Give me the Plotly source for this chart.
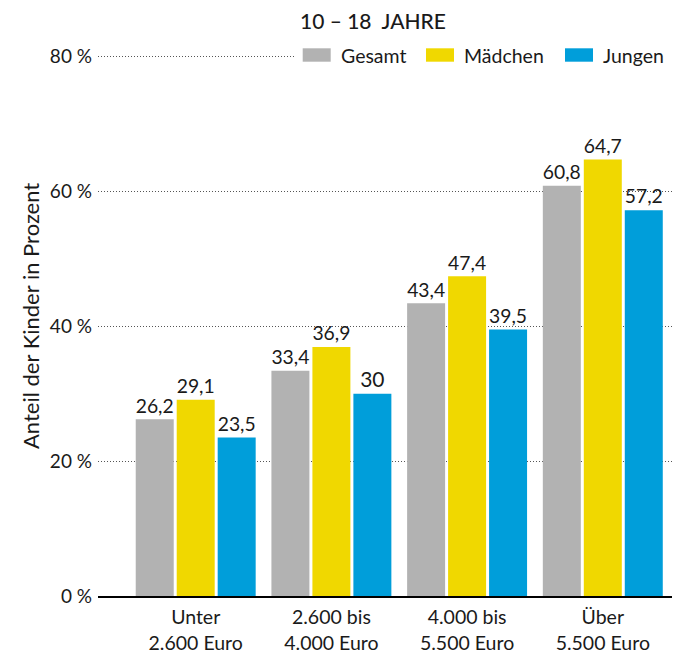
import plotly.graph_objects as go

# Einkommensgruppen (monatliches Haushaltsnettoeinkommen)
categories = ["Unter<br>2.600 Euro", "2.600 bis<br>4.000 Euro",
              "4.000 bis<br>5.500 Euro", "Über<br>5.500 Euro"]

gesamt = [26.2, 33.4, 43.4, 60.8]
maedchen = [29.1, 36.9, 47.4, 64.7]
jungen = [23.5, 30, 39.5, 57.2]

series_names = ["Gesamt", "Mädchen", "Jungen"]
series_colors = ["#B2B2B2", "#F0D800", "#009EDA"]

y_ticks = [0, 20, 40, 60, 80]
y_tick_text = [f"{v} %" for v in y_ticks]

FONT = "Lato, 'Noto Sans', sans-serif"
INK = "#1a1a1a"

W, H = 680, 657
M_L, M_R, M_T, M_B = 98, 8, 55, 61
PW, PH = W - M_L - M_R, H - M_T - M_B


def px_x(px):
    return (px - M_L) / PW


def px_y(py):
    return (H - M_B - py) / PH


def fmt(v):
    return f"{v:g}".replace(".", ",")


fig = go.Figure()
for name, vals, col in zip(series_names, [gesamt, maedchen, jungen], series_colors):
    fig.add_trace(go.Bar(
        x=categories, y=vals, name=name,
        marker=dict(color=col, line=dict(width=0)),
        text=[fmt(v) for v in vals], textposition="outside",
        textfont=dict(family=FONT, size=21, color=INK),
        cliponaxis=False, showlegend=False,
    ))

shapes = []
annotations = []

# Legende: weisser Hintergrund, Farbfelder und Beschriftungen
shapes.append(dict(type="rect", xref="paper", yref="paper",
                   x0=px_x(296), x1=px_x(676), y0=px_y(64), y1=px_y(46),
                   fillcolor="white", line=dict(width=0), layer="above"))
legend_items = [(302.7, "Gesamt"), (426, "Mädchen"), (565, "Jungen")]
for (x0, label), col in zip(legend_items, series_colors):
    shapes.append(dict(type="rect", xref="paper", yref="paper",
                       x0=px_x(x0), x1=px_x(x0 + 28), y0=px_y(61.7), y1=px_y(48.3),
                       fillcolor=col, line=dict(width=0), layer="above"))
    annotations.append(dict(xref="paper", yref="paper", x=px_x(x0 + 36), y=px_y(55),
                            xanchor="left", yanchor="middle", showarrow=False,
                            text=label, font=dict(family=FONT, size=19.5, color=INK)))

# Titel
annotations.append(dict(xref="paper", yref="paper", x=px_x(373), y=px_y(20),
                        xanchor="center", yanchor="middle", showarrow=False,
                        text="10 – 18\u00a0 JAHRE",
                        font=dict(family=FONT, size=21, color=INK, weight=500)))

# Achsentitel
annotations.append(dict(xref="paper", yref="paper", x=px_x(30), y=px_y(316),
                        xanchor="center", yanchor="middle", showarrow=False,
                        textangle=-90, text="Anteil der Kinder in Prozent",
                        font=dict(family=FONT, size=22, color=INK)))

fig.update_layout(
    width=W, height=H,
    margin=dict(l=M_L, r=M_R, t=M_T, b=M_B),
    paper_bgcolor="white", plot_bgcolor="white",
    barmode="group", bargap=0.094, bargroupgap=0.073,
    font=dict(family=FONT, color=INK),
    shapes=shapes, annotations=annotations,
    xaxis=dict(range=[-0.72, 3.51], showgrid=False, zeroline=False,
               showline=True, linecolor="black", linewidth=1.5,
               ticks="", ticklabelstandoff=3, automargin=False,
               tickfont=dict(family=FONT, size=19.5, color=INK)),
    yaxis=dict(range=[0, 80.2], tickmode="array", tickvals=y_ticks,
               ticktext=y_tick_text, automargin=False,
               showgrid=True, gridcolor="#555555", gridwidth=1,
               griddash="1px,2px",
               zeroline=False, showline=False, ticks="",
               ticklabelstandoff=5,
               tickfont=dict(family=FONT, size=19, color=INK)),
)

fig.write_html("out.html")
